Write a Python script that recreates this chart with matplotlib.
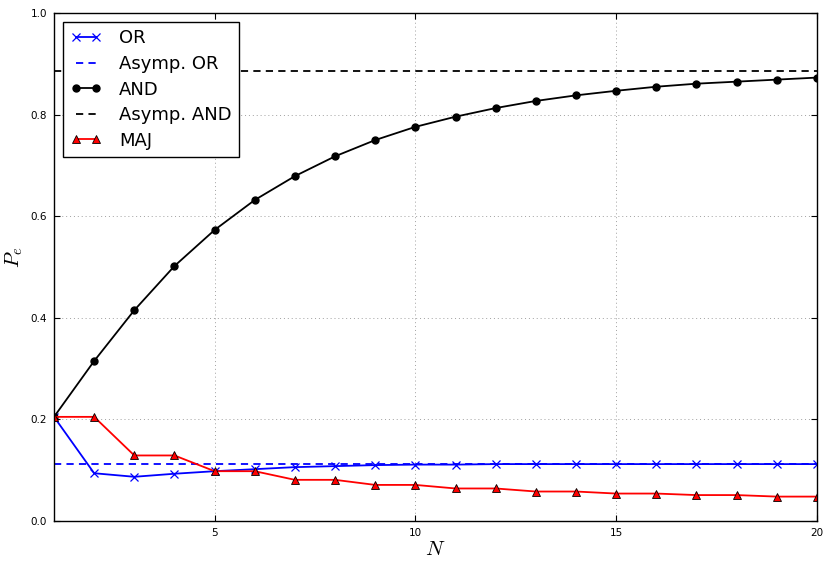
import matplotlib
matplotlib.use("Agg")
import matplotlib.pyplot as plt
import numpy as np

plt.rcParams['mathtext.fontset'] = 'cm'

N = list(range(1, 21))
p_or = [0.205, 0.094, 0.087, 0.093, 0.098, 0.102, 0.106, 0.108, 0.110, 0.111,
        0.111, 0.112, 0.112, 0.112, 0.112, 0.112, 0.112, 0.112, 0.112, 0.112]
asym_or = 0.112
p_and = [0.205, 0.315, 0.415, 0.502, 0.573, 0.632, 0.679, 0.718, 0.750, 0.776,
         0.796, 0.813, 0.827, 0.838, 0.847, 0.855, 0.861, 0.865, 0.869, 0.873]
asym_and = 0.886
p_maj = [0.205, 0.205, 0.129, 0.129, 0.098, 0.098, 0.081, 0.081, 0.071, 0.071,
         0.064, 0.064, 0.058, 0.058, 0.054, 0.054, 0.051, 0.051, 0.048, 0.048]

fig = plt.figure(figsize=(8.31, 5.69), dpi=100)
ax = fig.add_axes([0.065, 0.0844, 0.918, 0.8926])

lw = 1.3
ax.plot(N, p_or, color='blue', marker='x', markersize=6, markeredgewidth=0.9,
        linewidth=lw, label='OR')
ax.plot([N[0], N[-1]], [asym_or, asym_or], color='blue', linestyle='--',
        dashes=(4.0, 2.9), linewidth=lw, label='Asymp. OR')
ax.plot(N, p_and, color='black', marker='o', markersize=5, linewidth=lw,
        label='AND')
ax.plot([N[0], N[-1]], [asym_and, asym_and], color='black', linestyle='--',
        dashes=(4.0, 2.9), linewidth=lw, label='Asymp. AND')
ax.plot(N, p_maj, color='red', marker='^', markersize=5.5, markeredgecolor='black',
        markeredgewidth=0.6, linewidth=lw, label='MAJ')

ax.set_xlim(1, 20)
ax.set_ylim(0, 1)
ax.set_xticks([5, 10, 15, 20])
ax.set_yticks([0.0, 0.2, 0.4, 0.6, 0.8, 1.0])
ax.set_yticklabels(['0.0', '0.2', '0.4', '0.6', '0.8', '1.0'])
ax.tick_params(direction='in', top=True, right=True, labelsize=7.5, length=4,
               pad=5)
ax.grid(True, linestyle=(0, (1, 3)), color='#a0a0a0', linewidth=0.7)
for s in ax.spines.values():
    s.set_linewidth(1.0)

ax.set_xlabel('$N$', fontsize=15, labelpad=1)
ax.set_ylabel('$P_e$', fontsize=15)
ax.yaxis.set_label_coords(-0.038, 0.52)

leg = ax.legend(loc='upper left', fontsize=13, fancybox=False, framealpha=1,
                edgecolor='black', numpoints=2, handlelength=1.7,
                borderpad=0.4, labelspacing=0.42, handletextpad=1.0,
                borderaxespad=0.5)
leg.get_frame().set_linewidth(1.0)

fig.savefig('out.png', dpi=100)
